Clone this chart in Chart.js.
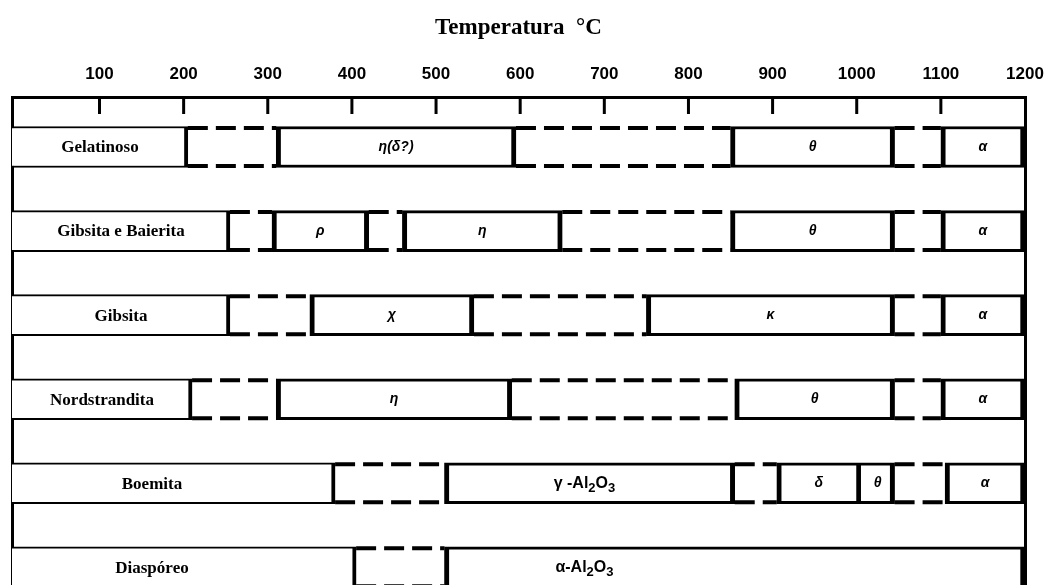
<!DOCTYPE html>
<html lang="pt">
<head>
<meta charset="utf-8">
<title>Temperatura °C</title>
<script src="https://cdn.jsdelivr.net/npm/chart.js@4.4.1/dist/chart.umd.min.js"></script>
<style>
  html, body { margin: 0; padding: 0; background: #fff; }
  #wrap { width: 1046px; height: 585px; }
</style>
</head>
<body>
<div id="wrap"><canvas id="phaseChart"></canvas></div>
<script>
// Temperature axis
const T_MIN = -4;
const T_MAX = 1200;
const tickValues = [100, 200, 300, 400, 500, 600, 700, 800, 900, 1000, 1100, 1200];

// Starting hydroxides, one row each (top to bottom)
const rows = ["Gelatinoso", "Gibsita e Baierita", "Gibsita", "Nordstrandita", "Boemita", "Diaspóreo"];

// Boxes of each row in °C, left to right; the first box holds the row name.
// Space between two boxes is a transition zone (dashed).
const gelatinosoRanges = [[T_MIN, 205], [310, 595], [850, 1045], [1100, T_MAX]];
const gelatinosoPhases = ["Gelatinoso", "η(δ?)", "θ", "α"];

const gibsitaBaieritaRanges = [[T_MIN, 255], [305, 420], [460, 650], [850, 1045], [1100, T_MAX]];
const gibsitaBaieritaPhases = ["Gibsita e Baierita", "ρ", "η", "θ", "α"];

const gibsitaRanges = [[T_MIN, 255], [350, 545], [750, 1045], [1100, T_MAX]];
const gibsitaPhases = ["Gibsita", "χ", "κ", "α"];

const nordstranditaRanges = [[T_MIN, 210], [310, 590], [855, 1045], [1100, T_MAX]];
const nordstranditaPhases = ["Nordstrandita", "η", "θ", "α"];

const boemitaRanges = [[T_MIN, 380], [510, 855], [905, 1005], [1005, 1045], [1105, T_MAX]];
const boemitaPhases = ["Boemita", "γ -Al₂O₃", "δ", "θ", "α"];

const diasporeoRanges = [[T_MIN, 405], [510, T_MAX]];
const diasporeoPhases = ["Diaspóreo", "α-Al₂O₃"];

const allRanges = [gelatinosoRanges, gibsitaBaieritaRanges, gibsitaRanges, nordstranditaRanges, boemitaRanges, diasporeoRanges];
const allPhases = [gelatinosoPhases, gibsitaBaieritaPhases, gibsitaPhases, nordstranditaPhases, boemitaPhases, diasporeoPhases];

// Split the rows into name boxes, phase boxes and transition gaps
const nameBoxes = [];
const phaseBoxes = [];
const gapBoxes = [];
allRanges.forEach((segs, row) => {
  segs.forEach((seg, i) => {
    const point = {
      y: row,
      x: seg,
      label: allPhases[row][i],
      joined: i > 0 && segs[i - 1][1] === seg[0],
    };
    if (i === 0) nameBoxes.push(point);
    else phaseBoxes.push(point);
    const next = segs[i + 1];
    if (next && seg[1] < next[0]) {
      gapBoxes.push({ y: row, x: [seg[1], next[0]] });
    }
  });
});

// Draws text centred at cx, with ₂ ₃ rendered as lowered small digits
function drawLabel(ctx, text, cx, cy, size, style, family) {
  const subs = { "₂": "2", "₃": "3" };
  const parts = [...text].map((ch) =>
    subs[ch] ? { t: subs[ch], sub: true } : { t: ch, sub: false }
  );
  const fontFor = (sub) =>
    `${style} ${sub ? Math.round(size * 0.8) : size}px ${family}`;
  let total = 0;
  parts.forEach((p) => {
    ctx.font = fontFor(p.sub);
    p.w = ctx.measureText(p.t).width;
    total += p.w;
  });
  let x = cx - total / 2;
  ctx.textAlign = "left";
  ctx.textBaseline = "middle";
  parts.forEach((p) => {
    ctx.font = fontFor(p.sub);
    ctx.fillText(p.t, x, cy + (p.sub ? size * 0.3 : 0));
    x += p.w;
  });
}

// Tick marks inside the ruler row, dashed transitions and box texts
const phaseDecor = {
  id: "phaseDecor",
  afterDatasetsDraw(chart) {
    const { ctx, chartArea, scales } = chart;
    ctx.save();
    ctx.beginPath();
    ctx.rect(chartArea.left, chartArea.top, chartArea.right - chartArea.left, chartArea.bottom - chartArea.top);
    ctx.clip();
    ctx.strokeStyle = "#000";
    ctx.fillStyle = "#000";

    ctx.lineWidth = 3;
    tickValues.forEach((v) => {
      if (v >= scales.x.max) return;
      const px = scales.x.getPixelForValue(v);
      ctx.beginPath();
      ctx.moveTo(px, chartArea.top);
      ctx.lineTo(px, chartArea.top + 17);
      ctx.stroke();
    });

    ctx.lineWidth = 4;
    ctx.setLineDash([20, 8]);
    chart.getDatasetMeta(2).data.forEach((bar) => {
      const { x, y, base, height } = bar.getProps(["x", "y", "base", "height"], true);
      const x0 = Math.min(x, base);
      const x1 = Math.max(x, base);
      [y - height / 2 + 1.5, y + height / 2 - 1.5].forEach((ly) => {
        ctx.beginPath();
        ctx.moveTo(x0, ly);
        ctx.lineTo(x1, ly);
        ctx.stroke();
      });
    });
    ctx.setLineDash([]);

    [0, 1].forEach((di) => {
      const meta = chart.getDatasetMeta(di);
      meta.data.forEach((bar, i) => {
        const raw = chart.data.datasets[di].data[i];
        const { x, y, base } = bar.getProps(["x", "y", "base"], true);
        const left = Math.min(x, base);
        const w = Math.abs(x - base);
        const cx = left + Math.min(w / 2, 140);
        if (di === 0) {
          drawLabel(ctx, raw.label, cx, y + 1, 17, "bold", '"Liberation Serif", serif');
        } else if (raw.label.includes("Al")) {
          drawLabel(ctx, raw.label, cx, y, 16, "bold", '"Liberation Sans", Arial, sans-serif');
        } else {
          drawLabel(ctx, raw.label, cx, y, 14, "italic bold", '"Liberation Sans", Arial, sans-serif');
        }
      });
    });
    ctx.restore();
  },
};

const boxStyle = {
  backgroundColor: "#fff",
  borderColor: "#000",
  borderSkipped: false,
  barThickness: 41,
  grouped: false,
};

new Chart(document.getElementById("phaseChart"), {
  type: "bar",
  data: {
    datasets: [
      {
        ...boxStyle,
        label: "Material",
        data: nameBoxes,
        borderWidth: { top: 2, bottom: 2, left: 0, right: 4 },
      },
      {
        ...boxStyle,
        label: "Fase",
        data: phaseBoxes,
        borderWidth: (c) => ({
          top: 3,
          bottom: 3,
          left: c.raw && c.raw.joined ? 0 : 5,
          right: 5,
        }),
      },
      {
        ...boxStyle,
        label: "Transição",
        data: gapBoxes,
        backgroundColor: "rgba(0,0,0,0)",
        borderWidth: 0,
      },
    ],
  },
  options: {
    indexAxis: "y",
    responsive: true,
    maintainAspectRatio: false,
    animation: false,
    layout: { padding: { left: 12, right: 21, top: 0, bottom: 0 } },
    plugins: {
      legend: { display: false },
      tooltip: { enabled: false },
      title: {
        display: true,
        text: "Temperatura  °C",
        color: "#000",
        font: { family: '"Liberation Serif", serif', size: 23, weight: "bold" },
        padding: { top: 14, bottom: 11 },
      },
    },
    scales: {
      x: {
        type: "linear",
        position: "top",
        min: T_MIN,
        max: T_MAX,
        afterBuildTicks: (scale) => {
          scale.ticks = tickValues.map((v) => ({ value: v }));
        },
        // the 1200 label may hang past the frame
        afterFit: (scale) => {
          scale.paddingLeft = 0;
          scale.paddingRight = 0;
        },
        ticks: {
          color: "#000",
          font: { family: '"Liberation Sans", Arial, sans-serif', size: 17, weight: "bold" },
          padding: 12,
          maxRotation: 0,
          autoSkip: false,
          callback: (v) => String(v),
        },
        grid: { display: false, drawTicks: false },
        border: { color: "#000", width: 3 },
      },
      y: {
        type: "linear",
        reverse: true,
        offset: false,
        bounds: "data",
        min: -0.595,
        max: 5.21,
        ticks: { display: false },
        grid: { display: false, drawTicks: false, offset: false },
        border: { color: "#000", width: 3 },
      },
      yRight: {
        type: "linear",
        position: "right",
        ticks: { display: false },
        grid: { display: false, drawTicks: false },
        border: { color: "#000", width: 3 },
      },
    },
  },
  plugins: [phaseDecor],
});
</script>
</body>
</html>
